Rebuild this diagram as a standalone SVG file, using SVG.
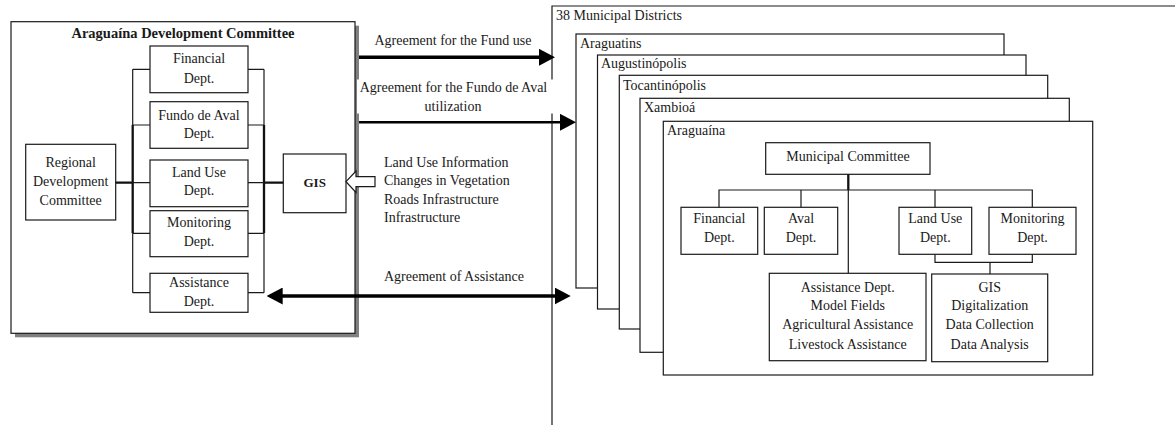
<svg xmlns="http://www.w3.org/2000/svg" width="1175" height="425" viewBox="0 0 1175 425">
  <style>
    text { font-family: "Liberation Serif", "Times New Roman", serif; font-size: 14px; fill: #1a1a1a; }
    .c { text-anchor: middle; }
    .b { font-weight: bold; }
    .box { fill: #fff; stroke: #1a1a1a; stroke-width: 1.2; }
    .ln { fill: none; stroke: #1a1a1a; stroke-width: 1.2; }
    .thk { fill: none; stroke: #111; stroke-width: 2.3; }
    .arr { fill: none; stroke: #000; }
  </style>
  <defs>
    <marker id="head" markerUnits="userSpaceOnUse" markerWidth="16" markerHeight="17" viewBox="0 0 16 17" refX="2" refY="8.5" orient="auto-start-reverse">
      <path d="M0,0 L16,8.5 L0,17 Z" fill="#000"/>
    </marker>
  </defs>
  <rect width="1175" height="425" fill="#fff"/>

  <!-- municipal districts: outer frame and stacked district cards -->
  <g id="districts">
    <path class="ln" d="M552,425 V6 H1175"/>
    <text x="556" y="20">38 Municipal Districts</text>
  </g>
  <g id="araguatins">
    <rect class="box" x="576" y="34" width="428" height="254"/>
    <text x="580" y="47.5">Araguatins</text>
  </g>
  <g id="augustinopolis">
    <rect class="box" x="597.5" y="55" width="428.5" height="254"/>
    <text x="601" y="68">Augustinópolis</text>
  </g>
  <g id="tocantinopolis">
    <rect class="box" x="619.3" y="75.3" width="428.4" height="253.7"/>
    <text x="623" y="89.5">Tocantinópolis</text>
  </g>
  <g id="xambioa">
    <rect class="box" x="640" y="98.3" width="429.3" height="254"/>
    <text x="644" y="112">Xambioá</text>
  </g>
  <g id="araguaina">
    <rect class="box" x="663.3" y="121.3" width="429.4" height="253.7"/>
    <text x="667" y="135">Araguaína</text>
  </g>

  <!-- Araguaína municipal structure -->
  <g id="municipal-committee">
    <rect class="box" x="765.7" y="142.7" width="164.3" height="31.6"/>
    <text class="c" x="848" y="160.7">Municipal Committee</text>
  </g>
  <g id="m-financial">
    <rect class="box" x="681" y="207.3" width="76.7" height="47"/>
    <text class="c" x="719.3" y="223.3">Financial</text>
    <text class="c" x="719.3" y="242.3">Dept.</text>
  </g>
  <g id="m-aval">
    <rect class="box" x="764.3" y="207.3" width="73.4" height="47"/>
    <text class="c" x="801" y="223.3">Aval</text>
    <text class="c" x="801" y="242.3">Dept.</text>
  </g>
  <g id="m-landuse">
    <rect class="box" x="899" y="207.3" width="72.7" height="47"/>
    <text class="c" x="935.3" y="223.3">Land Use</text>
    <text class="c" x="935.3" y="242.3">Dept.</text>
  </g>
  <g id="m-monitoring">
    <rect class="box" x="989" y="207.3" width="87" height="47"/>
    <text class="c" x="1032.5" y="223.3">Monitoring</text>
    <text class="c" x="1032.5" y="242.3">Dept.</text>
  </g>
  <g id="m-assistance">
    <rect class="box" x="769.3" y="273.3" width="156.7" height="87.4"/>
    <text class="c" x="847.7" y="291.7">Assistance Dept.</text>
    <text class="c" x="847.7" y="310.3">Model Fields</text>
    <text class="c" x="847.7" y="329.3">Agricultural Assistance</text>
    <text class="c" x="847.7" y="349.3">Livestock Assistance</text>
  </g>
  <g id="m-gis">
    <rect class="box" x="931.7" y="274" width="116" height="87.7"/>
    <text class="c" x="989.7" y="291.7">GIS</text>
    <text class="c" x="989.7" y="310.3">Digitalization</text>
    <text class="c" x="989.7" y="329.3">Data Collection</text>
    <text class="c" x="989.7" y="349.3">Data Analysis</text>
  </g>

  <!-- regional committee block with drop shadow -->
  <g id="development-committee">
    <rect x="15" y="25.7" width="344" height="311.6" fill="#808080"/>
    <rect class="box" x="11" y="21.7" width="344" height="311.6"/>
    <text class="c b" x="183" y="38.3" style="font-size:14.5px">Araguaína Development Committee</text>
  </g>
  <g id="regional-committee">
    <rect class="box" x="25.7" y="144.3" width="90" height="75.7"/>
    <text class="c" x="70.7" y="166.7">Regional</text>
    <text class="c" x="70.7" y="185.7">Development</text>
    <text class="c" x="70.7" y="205">Committee</text>
  </g>
  <g id="financial">
    <rect class="box" x="150" y="46" width="98" height="46.7"/>
    <text class="c" x="199" y="63.3">Financial</text>
    <text class="c" x="199" y="82.7">Dept.</text>
  </g>
  <g id="fundo-de-aval">
    <rect class="box" x="150" y="101.7" width="98" height="46.6"/>
    <text class="c" x="199" y="120">Fundo de Aval</text>
    <text class="c" x="199" y="138.3">Dept.</text>
  </g>
  <g id="land-use">
    <rect class="box" x="150" y="160" width="98" height="46.7"/>
    <text class="c" x="199" y="176.7">Land Use</text>
    <text class="c" x="199" y="195">Dept.</text>
  </g>
  <g id="monitoring">
    <rect class="box" x="150" y="210.7" width="98" height="46"/>
    <text class="c" x="199" y="226.7">Monitoring</text>
    <text class="c" x="199" y="246">Dept.</text>
  </g>
  <g id="assistance">
    <rect class="box" x="150" y="273.3" width="98" height="39"/>
    <text class="c" x="199" y="287.3">Assistance</text>
    <text class="c" x="199" y="306">Dept.</text>
  </g>
  <g id="gis">
    <rect class="box" x="283.3" y="154" width="62.7" height="58.7"/>
    <text class="c b" x="314.7" y="187" style="font-size:13px">GIS</text>
  </g>

  <!-- connectors -->
  <g id="connectors">
    <!-- department buses inside the committee -->
    <path class="ln" d="M132.7,69.3 V125 M132.7,233.3 V292.7 M264,69.3 V125 M264,233.3 V292.7"/>
    <path class="thk" d="M132.7,125 V233.3 M264,125 V233.3"/>
    <path class="ln" d="M132.7,69.3 H150 M132.7,125 H150 M132.7,182.7 H150 M132.7,233.3 H150 M132.7,292.7 H150"/>
    <path class="ln" d="M248,69.3 H264 M248,125 H264 M248,182.7 H264 M248,233.3 H264 M248,292.7 H264"/>
    <path class="thk" d="M115.7,182.7 H132.7 M264,182.7 H283.3"/>

    <!-- information flowing into GIS -->
    <polygon points="346,181.7 356,171 356,176.7 375,176.7 375,186.7 356,186.7 356,192.4" fill="#fff" stroke="#1a1a1a" stroke-width="1.2"/>
    <text x="384" y="166.7">Land Use Information</text>
    <text x="384" y="185">Changes in Vegetation</text>
    <text x="384" y="203.5">Roads Infrastructure</text>
    <text x="384" y="221.7">Infrastructure</text>

    <!-- agreements with the districts -->
    <text class="c" x="453" y="45">Agreement for the Fund use</text>
    <path class="arr" d="M359,57.3 H541" stroke-width="3.6" marker-end="url(#head)"/>

    <rect x="357" y="79.5" width="197" height="34" fill="#fff"/>
    <text class="c" x="453.5" y="91.7">Agreement for the Fundo de Aval</text>
    <text class="c" x="453" y="110.7">utilization</text>
    <path class="arr" d="M359,122.3 H562" stroke-width="2.6" marker-end="url(#head)"/>

    <text x="384" y="280.7">Agreement of Assistance</text>
    <path class="arr" d="M280.7,296 H556.7" stroke-width="3.6" marker-start="url(#head)" marker-end="url(#head)"/>

    <!-- Araguaína municipal tree -->
    <path class="thk" d="M848.3,174.3 V190"/>
    <path class="ln" d="M848.3,190 V273.3 M719,207.3 V190 H1032.3 V207.3 M801,190 V207.3 M935,190 V207.3 M935,254.3 V262.3 H1032.3 V254.3 M990,262.3 V274"/>
  </g>
</svg>
